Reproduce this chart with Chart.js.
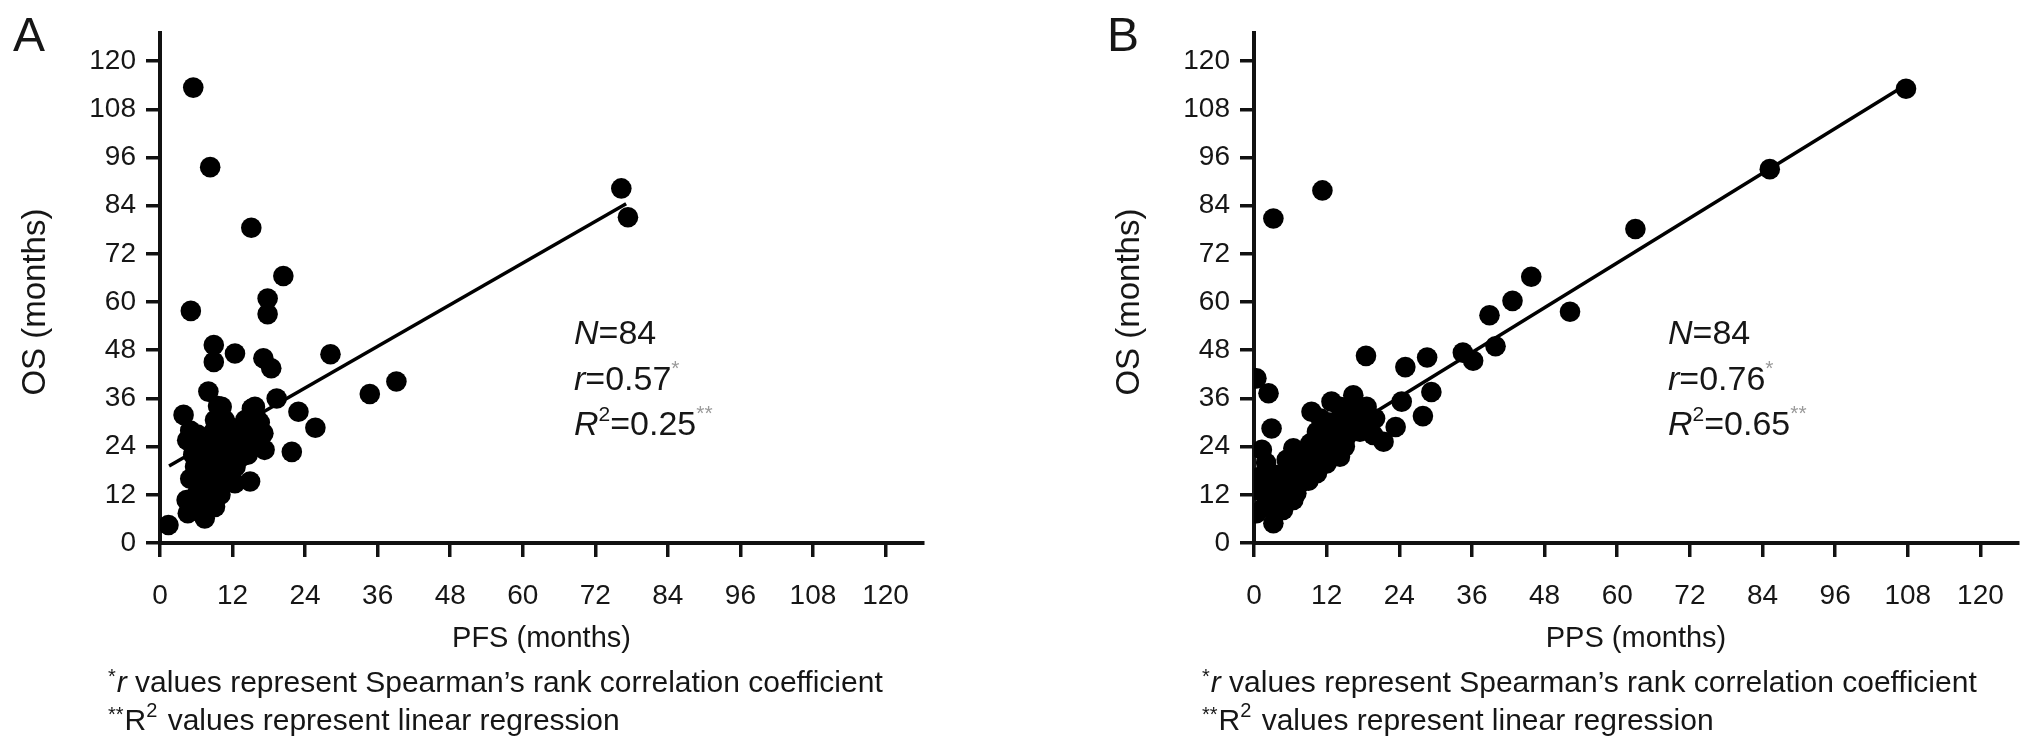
<!DOCTYPE html>
<html><head><meta charset="utf-8">
<script src="https://cdn.jsdelivr.net/npm/chart.js@4.4.1/dist/chart.umd.min.js"></script>
<style>
html,body{margin:0;padding:0;background:#fff;width:2032px;height:755px;overflow:hidden;}
canvas{position:absolute;top:0;}
</style></head><body>
<canvas id="ca" width="1000" height="755" style="left:0px"></canvas>
<canvas id="cb" width="938" height="755" style="left:1094px"></canvas>
<script>
// ---------- data ----------
const tickValues = [0,12,24,36,48,60,72,84,96,108,120];
const pfsA = [5.5,8.3,15.1,20.4,17.8,17.8,5.1,76.3,77.4,8.9,8.9,12.4,17.1,18.4,28.2,34.7,39.1,8,9.6,3.9,19.3,22.9,25.7,21.8,15.2,17.1,17.3,12.4,14.9,1.4,4.5,
  4.6,4.4,7.4,9.1,6.3,5.8,8.5,9.1,7.4,8.5,9.1,10.2,11.8,13,13.5,15.7,16.5,15.2,14.1,10.7,5,
  5,6,6.5,7,7.5,8,8,8.8,9.5,9.5,10,10,10.5,10.8,11,11.2,11.5,12,12.5,12.8,13.5,14,14.5,15,16,16.5,6.2,5.5,7,9,8.2,10];
const osA = [113.4,93.6,78.5,66.5,60.9,57,57.8,88.3,81.1,49.3,45.1,47.2,46,43.5,47,37.1,40.2,37.7,34.1,31.9,36,32.7,28.7,22.7,33.5,27.3,23.2,14.9,15.3,4.5,25.6,
  7.4,10.7,6.1,9,14.9,19,13.2,17.4,22.3,26.5,30.6,33.9,23.2,28.1,21.5,33.9,30,25.6,30.6,30.6,28,
  16,12,8,10,17,20,24,11,14,20,22,25,18,27,15.5,20.5,29,24.5,19,26,24,27.5,22,29,31,24.5,27,22,26,28,16,12];
const ppsB = [107.7,85.2,63,45.8,42.7,38.9,52.2,39.9,34.5,36.2,28.6,25,29.3,27.9,24.4,23.4,18.5,11.3,3.2,
  0.4,2.4,2.9,1.3,9.5,12.8,16.4,18.6,10.4,6.5,5.4,21.4,3.2,0.4,0.4,6.5,4.3,2.6,7.6,10.4,12,14.2,13.1,15.3,17.5,19.7,16.4,14.2,8.1,9.3,11.5,8.1,6,4.8,1.7,1,7,
  3,4,5,5.5,6.5,7,7.5,8.5,9,9.5,10,10.5,11,11.5,12,12.5,13,14,15,15.5,16,17,18,19,20,2,3.5,11];
const osB = [113.1,93.1,78.2,66.3,60.3,56.7,57.6,49,47.4,45.4,46.2,43.8,37.6,31.6,35.2,28.9,46.6,87.8,80.8,
  41,37.3,28.5,23.2,32.7,35.2,36.8,33.9,27.7,23.6,20.7,25.2,4.9,7.4,13.2,10.7,10.7,12.4,14.9,17.4,19.8,21.5,24.8,26.5,27.7,26.9,31.4,33.9,21.5,24.8,25.6,18.2,15.7,8.2,9,16.5,12.4,
  14,17,13,18,19.5,22,17,20,15.5,22.5,19.5,24,21.5,28,23,30,27,29.5,24,31.5,28.5,34,30,29,31,20,9,31];
const fitAx = [1.5, 77.1], fitAy = [19.2, 84.5];
const fitBx = [1.5, 106.5], fitBy = [15.4, 113.0];
const panelLetters = ['A','B'];
const xTitles = ['PFS (months)','PPS (months)'];
const yTitle = 'OS (months)';
const nText = ['84','84'];
const rText = ['0.57','0.76'];
const r2Text = ['0.25','0.65'];
const foot1 = ' values represent Spearman\u2019s rank correlation coefficient';
const foot2 = ' values represent linear regression';

// ---------- helpers ----------
const FF = '"Liberation Sans", Arial, Helvetica, sans-serif';
const INK = '#161616';
function pts(xs, ys){ return xs.map((x,i)=>({x:x, y:ys[i]})); }
function drawRuns(ctx, x, y, runs){
  let cx = x;
  runs.forEach(r=>{
    ctx.font = (r.i?'italic ':'') + r.s + 'px ' + FF;
    ctx.fillStyle = r.c || INK;
    ctx.textBaseline = 'alphabetic'; ctx.textAlign = 'left';
    ctx.fillText(r.t, cx, y + (r.dy||0));
    cx += ctx.measureText(r.t).width + (r.gap||0);
  });
}
const panelText = {
  id: 'panelText',
  afterDraw(chart, args, o){
    const ctx = chart.ctx, ca = chart.chartArea, ys = chart.scales.y;
    const L = ca.left, k = o.k;
    ctx.save();
    drawRuns(ctx, L-147, 51, [{t:panelLetters[k], s:48}]);
    ctx.save();
    ctx.translate(L-124, ys.getPixelForValue(60));
    ctx.rotate(-Math.PI/2);
    ctx.font = '33px ' + FF; ctx.fillStyle = INK;
    ctx.textAlign = 'center'; ctx.textBaseline = 'middle';
    ctx.fillText(yTitle, 0, 0);
    ctx.restore();
    const ax = L + 414;
    drawRuns(ctx, ax, 344, [{t:'N', s:34, i:true},{t:'='+nText[k], s:34}]);
    drawRuns(ctx, ax, 390, [{t:'r', s:34, i:true},{t:'='+rText[k], s:34},{t:'*', s:21, dy:-15, c:'#9a9a9a'}]);
    drawRuns(ctx, ax, 435, [{t:'R', s:34, i:true},{t:'2', s:21, dy:-14},{t:'='+r2Text[k], s:34},{t:'**', s:21, dy:-15, c:'#9a9a9a'}]);
    const fx = L - 52;
    drawRuns(ctx, fx, 692, [{t:'*', s:20, dy:-9, gap:1},{t:'r', s:30, i:true},{t:foot1, s:30}]);
    drawRuns(ctx, fx, 730, [{t:'**', s:20, dy:-9, gap:1},{t:'R', s:30},{t:'2', s:20, dy:-13, gap:2},{t:foot2, s:30}]);
    ctx.restore();
  }
};

function makeChart(id, k, xs, ys, fx, fy, padRight){
  const keepTicks = s => { s.ticks = tickValues.map(v => ({value:v})); };
  return new Chart(document.getElementById(id), {
    type: 'scatter',
    data: { datasets: [
      { type:'line', data: pts(fx, fy), borderColor:'#000', borderWidth:3.5, pointRadius:0, fill:false, order:0 },
      { data: pts(xs, ys), backgroundColor:'#000', borderWidth:0, pointRadius:10.3, pointHoverRadius:10.3, order:1 }
    ]},
    options: {
      responsive:false, animation:false, devicePixelRatio:1,
      layout:{ padding:{ left:0, top:33, right:padRight, bottom:95 } },
      plugins:{ legend:{display:false}, tooltip:{enabled:false}, panelText:{k:k} },
      scales:{
        x:{ type:'linear', min:0, max:126.2,
          afterBuildTicks: keepTicks,
          afterFit: s => { s.height = 117; },
          ticks:{ stepSize:12, color:INK, font:{family:FF, size:28}, padding:22, maxRotation:0, autoSkip:false },
          grid:{ drawOnChartArea:false, drawTicks:true, tickLength:14, lineWidth:3.5, color:'#111' },
          border:{ display:true, width:4, color:'#111' },
          title:{ display:true, text:xTitles[k], color:INK, font:{family:FF, size:29}, padding:{top:0, bottom:4} }
        },
        y:{ type:'linear', min:0, max:127,
          afterBuildTicks: keepTicks,
          afterFit: s => { s.width = 160; },
          ticks:{ stepSize:12, color:INK, font:{family:FF, size:28}, padding:10, autoSkip:false },
          grid:{ drawOnChartArea:false, drawTicks:true, tickLength:14, lineWidth:3.5, color:'#111' },
          border:{ display:true, width:4, color:'#111' }
        }
      }
    },
    plugins:[panelText]
  });
}
makeChart('ca', 0, pfsA, osA, fitAx, fitAy, 77);
makeChart('cb', 1, ppsB, osB, fitBx, fitBy, 14);
</script>
</body></html>
